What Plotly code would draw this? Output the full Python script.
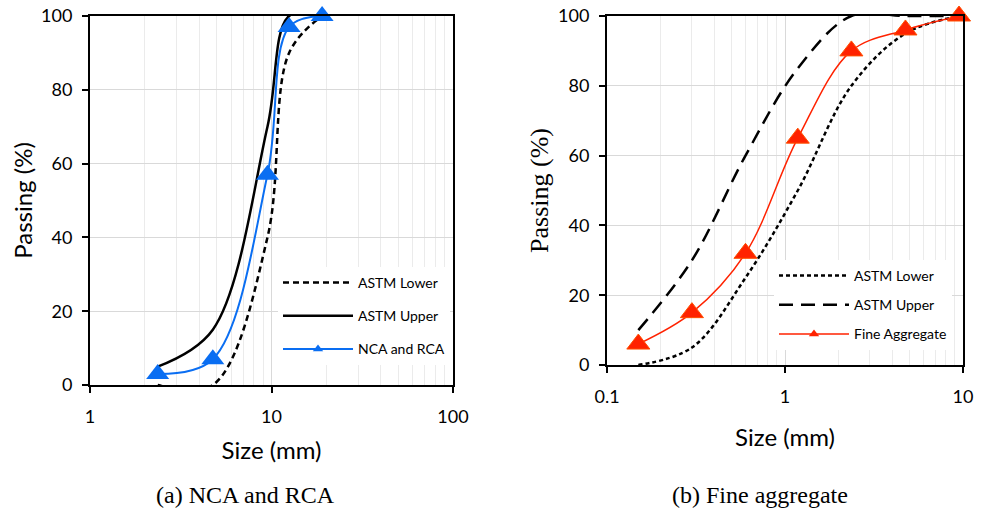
import plotly.graph_objects as go

# ---------- data ----------
# (a) coarse aggregate
coarse_size = [2.36, 4.75, 9.5, 12.5, 19]
coarse_lower = [0, 0, 40, 90, 100]
coarse_upper = [5, 15, 70, 100, 100]
coarse_nca_rca = [3, 7, 57, 97, 100]

# (b) fine aggregate
fine_size = [0.15, 0.3, 0.6, 1.18, 2.36, 4.75, 9.5]
fine_lower = [0, 5, 25, 50, 80, 95, 100]
fine_upper = [10, 30, 60, 85, 100, 100, 100]
fine_agg = [6, 15, 32, 65, 90, 96, 100]

y_ticks = [0, 20, 40, 60, 80, 100]

BLUE = "#0A6EF2"
RED = "#FF2200"
SANS = "Lato"
SERIF = "Liberation Serif"

fig = go.Figure()

# ---- left panel ----
fig.add_trace(go.Scatter(x=coarse_size, y=coarse_lower, name="ASTM Lower", mode="lines",
                         line=dict(color="black", width=2.5, dash="6px,4px", shape="spline", smoothing=1),
                         xaxis="x", yaxis="y", legend="legend", legendgroup="a1"))
fig.add_trace(go.Scatter(x=coarse_size, y=coarse_upper, name="ASTM Upper", mode="lines",
                         line=dict(color="black", width=2.5, shape="spline", smoothing=1),
                         xaxis="x", yaxis="y", legend="legend", legendgroup="a2"))
fig.add_trace(go.Scatter(x=coarse_size, y=coarse_nca_rca, name="NCA and RCA", mode="lines+markers",
                         line=dict(color=BLUE, width=2, shape="spline", smoothing=1),
                         marker=dict(symbol="triangle-up", size=20, color=BLUE),
                         cliponaxis=False, showlegend=False,
                         xaxis="x", yaxis="y"))
fig.add_trace(go.Scatter(x=[None], y=[None], name="NCA and RCA", mode="lines+markers",
                         line=dict(color=BLUE, width=2),
                         marker=dict(symbol="triangle-up", size=9, color=BLUE),
                         xaxis="x", yaxis="y", legend="legend", legendgroup="a3"))

# ---- right panel ----
fig.add_trace(go.Scatter(x=fine_size, y=fine_lower, name="ASTM Lower", mode="lines",
                         line=dict(color="black", width=2.5, dash="4px,3px", shape="spline", smoothing=1),
                         xaxis="x2", yaxis="y2", legend="legend2", legendgroup="b1"))
fig.add_trace(go.Scatter(x=fine_size, y=fine_upper, name="ASTM Upper", mode="lines",
                         line=dict(color="black", width=2.5, dash="14px,8px", shape="spline", smoothing=1),
                         xaxis="x2", yaxis="y2", legend="legend2", legendgroup="b2"))
fig.add_trace(go.Scatter(x=fine_size, y=fine_agg, name="Fine Aggregate", mode="lines+markers",
                         line=dict(color=RED, width=1.5, shape="spline", smoothing=1),
                         marker=dict(symbol="triangle-up", size=20, color=RED,
                                     line=dict(color="#FF5000", width=1)),
                         cliponaxis=False, showlegend=False,
                         xaxis="x2", yaxis="y2"))
fig.add_trace(go.Scatter(x=[None], y=[None], name="Fine Aggregate", mode="lines+markers",
                         line=dict(color=RED, width=1.5),
                         marker=dict(symbol="triangle-up", size=9, color=RED),
                         xaxis="x2", yaxis="y2", legend="legend2", legendgroup="b3"))

W, H = 988, 519


def px_x(a, b):
    return [a / W, b / W]


def px_y(top, bottom):
    return [(H - bottom) / H, (H - top) / H]


common_x = dict(type="log", showline=True, linecolor="black", linewidth=2, mirror=True,
                ticks="outside", ticklen=6, tickcolor="black", tickwidth=1.5, dtick=1,
                showgrid=True, gridcolor="#d9d9d9", gridwidth=1, zeroline=False, automargin=False,
                minor=dict(showgrid=True, gridcolor="#ebebeb", gridwidth=1, dtick="D1", ticks=""),
                tickfont=dict(family=SANS, size=18, color="black"), ticklabelstandoff=8)
common_y = dict(range=[0, 100], tickvals=y_ticks, showline=True, linecolor="black", linewidth=2,
                mirror=True, ticks="outside", ticklen=6, tickcolor="black", tickwidth=1.5,
                showgrid=True, gridcolor="#d9d9d9", gridwidth=1, zeroline=False, automargin=False,
                tickfont=dict(family=SANS, size=18, color="black"), ticklabelstandoff=6)

fig.update_layout(
    width=W, height=H, margin=dict(l=0, r=0, t=0, b=0, autoexpand=False),
    paper_bgcolor="white", plot_bgcolor="white",
    xaxis=dict(common_x, domain=px_x(90, 453), range=[0, 2], anchor="y",
               title=dict(text="Size (mm)", font=dict(family=SANS, size=24, color="black"), standoff=17)),
    yaxis=dict(common_y, domain=px_y(16, 385), anchor="x",
               title=dict(text="Passing (%)", font=dict(family=SANS, size=24, color="black"), standoff=2)),
    xaxis2=dict(common_x, domain=px_x(607, 963), range=[-1, 1], anchor="y2",
                title=dict(text="Size (mm)", font=dict(family=SANS, size=24, color="black"), standoff=24)),
    yaxis2=dict(common_y, domain=px_y(16, 365), anchor="x2",
                title=dict(text="Passing (%)", font=dict(family=SERIF, size=26, color="black"), standoff=2)),
    legend=dict(x=278 / W, y=(H - 267) / H, xanchor="left", yanchor="top", bgcolor="white",
                font=dict(family=SANS, size=14, color="black"), traceorder="grouped",
                tracegroupgap=12, itemwidth=70),
    legend2=dict(x=774 / W, y=(H - 260) / H, xanchor="left", yanchor="top", bgcolor="white",
                 font=dict(family=SANS, size=14, color="black"), traceorder="grouped",
                 tracegroupgap=8, itemwidth=70),
    annotations=[
        dict(text="(a) NCA and RCA", x=245 / W, y=(H - 495) / H, xref="paper", yref="paper",
             xanchor="center", yanchor="middle",
             showarrow=False, font=dict(family=SERIF, size=24, color="black")),
        dict(text="(b) Fine aggregate", x=760 / W, y=(H - 495) / H, xref="paper", yref="paper",
             xanchor="center", yanchor="middle",
             showarrow=False, font=dict(family=SERIF, size=24, color="black")),
    ],
)

fig.write_html("out.html")
